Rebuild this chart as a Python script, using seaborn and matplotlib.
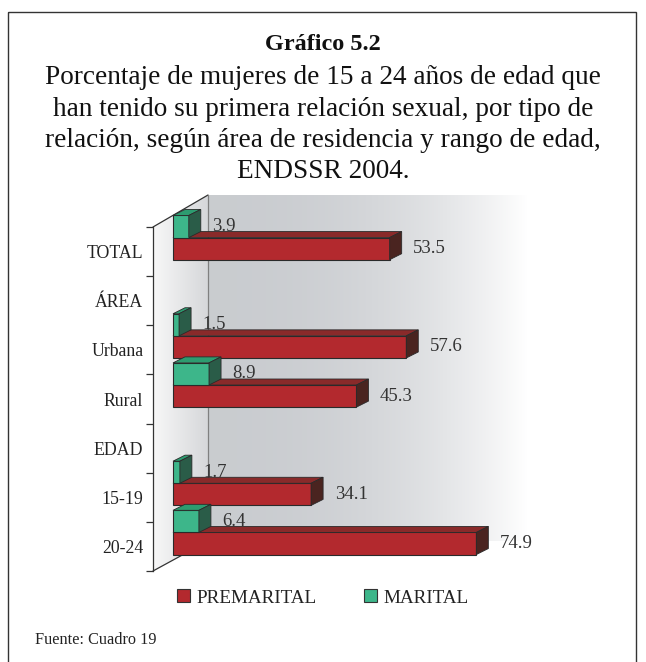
import numpy as np
import pandas as pd
import matplotlib
matplotlib.use("Agg")
import matplotlib.pyplot as plt
from matplotlib.patches import Polygon, Rectangle, Patch
from matplotlib.transforms import IdentityTransform
from matplotlib.colors import to_hex
import seaborn as sns

# datos
categorias = ["TOTAL", "ÁREA", "Urbana", "Rural", "EDAD", "15-19", "20-24"]
grupos = ["TOTAL", "Urbana", "Rural", "15-19", "20-24"]
premarital = [53.5, 57.6, 45.3, 34.1, 74.9]
marital = [3.9, 1.5, 8.9, 1.7, 6.4]
series = ["MARITAL", "PREMARITAL"]
leyenda = ["PREMARITAL", "MARITAL"]
colores = {"PREMARITAL": "#B3292E", "MARITAL": "#3DB68A"}
caras = {"PREMARITAL": ("#892A2A", "#4A2420"), "MARITAL": ("#2D9C70", "#2A5C48")}
titulo = "Gráfico 5.2"
subtitulo = ["Porcentaje de mujeres de 15 a 24 años de edad que",
             "han tenido su primera relación sexual, por tipo de",
             "relación, según área de residencia y rango de edad,",
             "ENDSSR 2004."]
fuente = "Fuente: Cuadro 19"

W, H = 646, 662
sns.set_theme(style="white")
plt.rcParams["font.family"] = ["Liberation Serif", "DejaVu Serif"]

fig = plt.figure(figsize=(W / 100, H / 100), dpi=100)


def caja(x0, y0, x1, y1):
    # caja en pixeles (origen arriba a la izquierda) -> fraccion de figura
    return [x0 / W, 1 - y1 / H, (x1 - x0) / W, (y1 - y0) / H]


# fondo: marco y paredes del grafico 3D
bg = fig.add_axes([0, 0, 1, 1], zorder=0)
bg.set_xlim(0, W)
bg.set_ylim(H, 0)
bg.axis("off")
bg.add_patch(Rectangle((8, 12), 628, 680, fill=False, ec="#333333", lw=1))

t = np.linspace(0, 1, 256) ** 2.3
gris = np.array([0.79, 0.80, 0.815])
fondo = gris + (1 - gris) * t[:, None]
bg.imshow(fondo[None, :, :], extent=(208, 528, 541, 195), aspect="auto", zorder=1)

t2 = np.linspace(0, 1, 64)
claro = np.array([0.97, 0.97, 0.97])
oscuro = np.array([0.84, 0.845, 0.855])
lateral = claro + (oscuro - claro) * t2[:, None]
im = bg.imshow(lateral[None, :, :], extent=(153, 208, 571, 195), aspect="auto", zorder=1)
pared = Polygon([(153, 227), (208, 195), (208, 541), (153, 571)], closed=True,
                transform=bg.transData, fc="none", ec="none")
bg.add_patch(pared)
im.set_clip_path(pared)
bg.plot([153, 208], [227, 195], color="#333333", lw=0.9, zorder=2)
bg.plot([153, 208], [571, 541], color="#333333", lw=0.9, zorder=2)
bg.plot([208, 208], [195, 541], color="#808080", lw=0.9, zorder=2)

# eje frontal con las categorias
escala = 4.05  # px por unidad
ax_f = fig.add_axes(caja(153, 227, 600, 571), zorder=1)
ax_f.patch.set_visible(False)
ax_f.set_ylim(len(categorias) - 0.5, -0.5)
ax_f.set_xlim(0, 1)
ax_f.set_yticks(np.arange(-0.5, len(categorias)), labels=[])
ax_f.set_yticks(np.arange(len(categorias)), labels=categorias, minor=True)
ax_f.tick_params(axis="y", which="major", length=5, width=0.9, color="#333333", left=True)
ax_f.tick_params(axis="y", which="minor", length=0, pad=7, labelsize=12.8, labelcolor="#222222")
ax_f.set_xticks([])
for s in ["top", "right", "bottom"]:
    ax_f.spines[s].set_visible(False)
ax_f.spines["left"].set_color("#333333")
ax_f.spines["left"].set_linewidth(0.9)

# barras
df = pd.DataFrame({
    "grupo": grupos * 2,
    "tipo": ["PREMARITAL"] * len(grupos) + ["MARITAL"] * len(grupos),
    "valor": premarital + marital,
})
ax = fig.add_axes(caja(153, 213, 600, 557), zorder=2)
sns.barplot(data=df, y="grupo", x="valor", hue="tipo", order=categorias,
            hue_order=series, palette=colores, width=0.9, saturation=1,
            orient="h", edgecolor="#2a2a2a", linewidth=0.8, errorbar=None,
            legend=False, ax=ax)
x_ini = -20 / escala
ax.set_xlim(x_ini, x_ini + 447 / escala)
ax.set_ylim(len(categorias) - 0.5, -0.5)
ax.axis("off")

dx, dy = 12, 6
nombre_color = {to_hex(c): k for k, c in colores.items()}
for cont in ax.containers:
    for bar in cont:
        if not np.isfinite(bar.get_width()):
            continue
        serie = nombre_color.get(to_hex(bar.get_facecolor()), "PREMARITAL")
        z = 3 if serie == "MARITAL" else 2
        bar.set_zorder(z)
        p = ax.transData.transform([[bar.get_x(), bar.get_y()],
                                    [bar.get_x() + bar.get_width(), bar.get_y() + bar.get_height()]])
        xl, xr = p[:, 0].min(), p[:, 0].max()
        yb, yt = p[:, 1].min(), p[:, 1].max()
        arriba = [(xl, yt), (xr, yt), (xr + dx, yt + dy), (xl + dx, yt + dy)]
        lado = [(xr, yb), (xr + dx, yb + dy), (xr + dx, yt + dy), (xr, yt)]
        for pts, fc in zip([arriba, lado], caras[serie]):
            ax.add_patch(Polygon(pts, closed=True, transform=IdentityTransform(),
                                 fc=fc, ec="#2a2a2a", lw=0.6, zorder=z, clip_on=False))
    ax.bar_label(cont, fmt="%.1f", padding=17, fontsize=13.5, color="#333333")

# textos
fig.text(0.5, 1 - 45 / H, titulo, ha="center", va="center", fontsize=17.5,
         fontweight="bold", color="#111111")
for i, linea in enumerate(subtitulo):
    fig.text(0.5, 1 - (78 + 31.3 * i) / H, linea, ha="center", va="center",
             fontsize=19.6, color="#111111")

manejadores = [Patch(fc=colores[k], ec="#333333", lw=0.8) for k in leyenda]
fig.legend(manejadores, leyenda, loc="center", bbox_to_anchor=(0.5, 1 - 598 / H),
           ncol=2, frameon=False, fontsize=13.8, handlelength=0.65, handleheight=0.65,
           handletextpad=0.35, columnspacing=2.5, labelcolor="#222222")
fig.text(35 / W, 1 - 640 / H, fuente, ha="left", va="center", fontsize=11.7, color="#222222")

fig.savefig("out.png", dpi=100)
